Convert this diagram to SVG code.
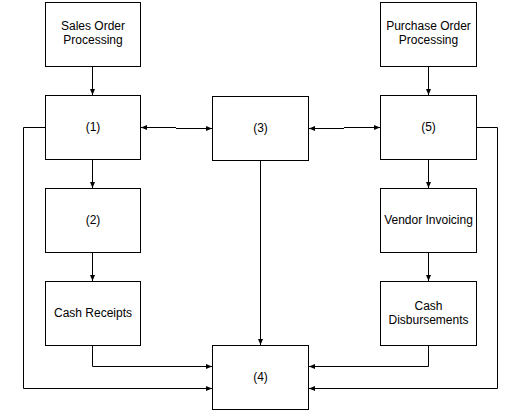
<svg xmlns="http://www.w3.org/2000/svg" width="520" height="411" viewBox="0 0 520 411">
<style>
.box{fill:#fff;stroke:#000;stroke-width:1}
.lbl{font-family:"Liberation Sans",Arial,sans-serif;font-size:12px;fill:#000;text-anchor:middle}
.c{fill:none;stroke:#000;stroke-width:1}
</style>
<defs>
<marker id="ah" viewBox="0 0 6 6" refX="6" refY="3" markerWidth="6" markerHeight="6" markerUnits="userSpaceOnUse" orient="auto">
<path d="M0,0.5 L6,3 L0,5.5 z" fill="#000"/>
</marker>
</defs>
<rect width="520" height="411" fill="#fff"/>
<g id="connectors">
<path class="c" d="M92.5,66 L92.5,95" marker-end="url(#ah)"/>
<path class="c" d="M92.5,159 L92.5,188" marker-end="url(#ah)"/>
<path class="c" d="M92.5,252 L92.5,281" marker-end="url(#ah)"/>
<path class="c" d="M428.5,66 L428.5,95" marker-end="url(#ah)"/>
<path class="c" d="M428.5,159 L428.5,188" marker-end="url(#ah)"/>
<path class="c" d="M428.5,252 L428.5,281" marker-end="url(#ah)"/>
<path class="c" d="M176,127.5 L141,127.5" marker-end="url(#ah)"/>
<path class="c" d="M176,128.5 L212,128.5" marker-end="url(#ah)"/>
<path class="c" d="M344,128.5 L309,128.5" marker-end="url(#ah)"/>
<path class="c" d="M344,127.5 L380,127.5" marker-end="url(#ah)"/>
<path class="c" d="M260.5,160 L260.5,345" marker-end="url(#ah)"/>
<path class="c" d="M45,127.5 L23.5,127.5 L23.5,388.5 L212,388.5" marker-end="url(#ah)"/>
<path class="c" d="M92.5,345 L92.5,366.5 L212,366.5" marker-end="url(#ah)"/>
<path class="c" d="M428.5,345 L428.5,366.5 L309,366.5" marker-end="url(#ah)"/>
<path class="c" d="M476,127.5 L497.5,127.5 L497.5,388.5 L309,388.5" marker-end="url(#ah)"/>
</g>
<g id="sales-order">
<rect class="box" x="45.5" y="2.5" width="95" height="64"/>
<text class="lbl" x="93" y="30">Sales Order</text>
<text class="lbl" x="93" y="44">Processing</text>
</g>
<g id="n1">
<rect class="box" x="45.5" y="95.5" width="95" height="64"/>
<text class="lbl" x="93" y="131">(1)</text>
</g>
<g id="n2">
<rect class="box" x="45.5" y="188.5" width="95" height="64"/>
<text class="lbl" x="93" y="224">(2)</text>
</g>
<g id="cash-receipts">
<rect class="box" x="45.5" y="281.5" width="95" height="64"/>
<text class="lbl" x="93" y="317">Cash Receipts</text>
</g>
<g id="n3">
<rect class="box" x="212.5" y="96.5" width="96" height="64"/>
<text class="lbl" x="260.5" y="132">(3)</text>
</g>
<g id="n4">
<rect class="box" x="212.5" y="345.5" width="96" height="64"/>
<text class="lbl" x="260.5" y="381">(4)</text>
</g>
<g id="purchase-order">
<rect class="box" x="380.5" y="2.5" width="96" height="64"/>
<text class="lbl" x="428.5" y="30">Purchase Order</text>
<text class="lbl" x="428.5" y="44">Processing</text>
</g>
<g id="n5">
<rect class="box" x="380.5" y="95.5" width="96" height="64"/>
<text class="lbl" x="428.5" y="131">(5)</text>
</g>
<g id="vendor-invoicing">
<rect class="box" x="380.5" y="188.5" width="96" height="64"/>
<text class="lbl" x="428.5" y="224">Vendor Invoicing</text>
</g>
<g id="cash-disbursements">
<rect class="box" x="380.5" y="281.5" width="96" height="64"/>
<text class="lbl" x="428.5" y="309.5">Cash</text>
<text class="lbl" x="428.5" y="324">Disbursements</text>
</g>
</svg>
